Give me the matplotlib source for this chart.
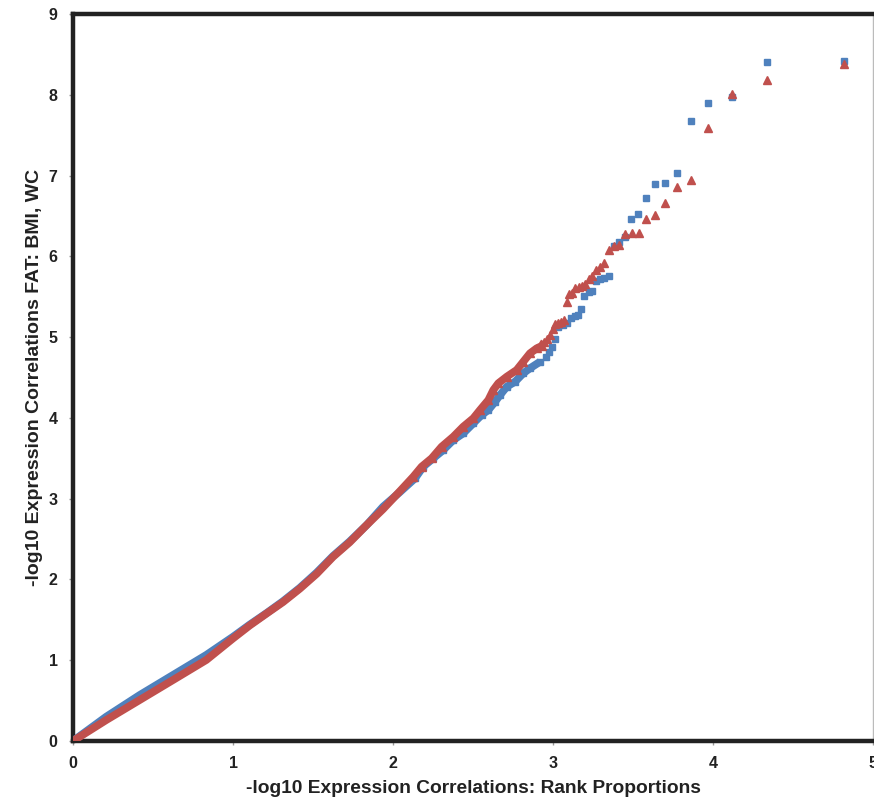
import matplotlib
matplotlib.use("Agg")
import matplotlib.pyplot as plt
import numpy as np

plt.rcParams['font.family'] = ['Liberation Sans', 'DejaVu Sans']

# Blue series (squares)
blue_x = [0.0, 0.208, 0.417, 0.625, 0.833, 1.0, 1.104, 1.211, 1.3125, 1.417, 1.523, 1.625,
          1.729, 1.836, 1.9375, 2.042, 2.138, 2.189, 2.252, 2.314, 2.377, 2.439, 2.502, 2.554,
          2.596, 2.638, 2.669, 2.711, 2.763, 2.814, 2.856, 2.919, 2.956, 2.977, 2.996, 3.013,
          3.033, 3.063, 3.086, 3.113, 3.136, 3.156, 3.177, 3.196, 3.225, 3.242, 3.267, 3.294,
          3.319, 3.348, 3.381, 3.414, 3.450, 3.489, 3.533, 3.581, 3.638, 3.700, 3.773, 3.861,
          3.969, 4.117, 4.335, 4.82]
blue_y = [0.0, 0.301, 0.569, 0.817, 1.065, 1.29, 1.44, 1.585, 1.73, 1.895, 2.085, 2.29,
          2.47, 2.675, 2.90, 3.08, 3.252, 3.396, 3.500, 3.602, 3.726, 3.809, 3.933, 4.036,
          4.098, 4.200, 4.283, 4.386, 4.448, 4.552, 4.614, 4.695, 4.757, 4.816, 4.874, 4.977,
          5.129, 5.150, 5.171, 5.240, 5.265, 5.274, 5.352, 5.509, 5.562, 5.571, 5.691, 5.719,
          5.735, 5.756, 6.128, 6.181, 6.243, 6.458, 6.524, 6.718, 6.897, 6.912, 7.028, 7.671,
          7.898, 7.976, 8.41, 8.42]

# Red series (triangles)
red_x = [0.0, 0.208, 0.417, 0.625, 0.833, 1.0, 1.104, 1.211, 1.3125, 1.417, 1.523, 1.625,
         1.729, 1.836, 1.9375, 2.042, 2.127, 2.179, 2.242, 2.304, 2.377, 2.439, 2.502, 2.544,
         2.596, 2.627, 2.658, 2.711, 2.773, 2.814, 2.856, 2.898, 2.929, 2.946, 2.964, 2.981,
         2.998, 3.014, 3.033, 3.052, 3.069, 3.086, 3.102, 3.119, 3.139, 3.161, 3.179, 3.198,
         3.223, 3.242, 3.269, 3.294, 3.321, 3.350, 3.381, 3.414, 3.452, 3.492, 3.536, 3.581,
         3.638, 3.700, 3.773, 3.861, 3.969, 4.117, 4.335, 4.82]
red_y = [0.0, 0.260, 0.508, 0.755, 1.003, 1.27, 1.43, 1.58, 1.72, 1.885, 2.07, 2.28,
         2.46, 2.675, 2.87, 3.09, 3.272, 3.396, 3.500, 3.643, 3.767, 3.891, 3.995, 4.098,
         4.221, 4.345, 4.428, 4.510, 4.593, 4.695, 4.799, 4.861, 4.890, 4.943, 4.976, 5.026,
         5.097, 5.158, 5.175, 5.183, 5.212, 5.438, 5.530, 5.550, 5.604, 5.624, 5.636, 5.657,
         5.723, 5.757, 5.831, 5.872, 5.921, 6.078, 6.131, 6.140, 6.276, 6.292, 6.292, 6.462,
         6.511, 6.664, 6.862, 6.945, 7.592, 8.010, 8.18, 8.38]

x_ticks = [0, 1, 2, 3, 4, 5]
y_ticks = [0, 1, 2, 3, 4, 5, 6, 7, 8, 9]
x_label = "-log10 Expression Correlations: Rank Proportions"
y_label = "-log10 Expression Correlations FAT: BMI, WC"

BLUE = "#4F81BD"
RED = "#C0504D"
DENSE_LIMIT = 2.95
MARKER_FROM = 2.1

fig = plt.figure(figsize=(8.74, 7.97), dpi=100)
ax = fig.add_axes([73 / 874, 1 - 741 / 797, 800 / 874, 727 / 797])

for xs, ys, col, mk, ms in [(blue_x, blue_y, BLUE, 's', 4.6), (red_x, red_y, RED, '^', 5.2)]:
    xs = np.array(xs); ys = np.array(ys)
    dense = xs <= DENSE_LIMIT
    ax.plot(xs[dense], ys[dense], color=col, lw=5.6, solid_capstyle='butt',
            solid_joinstyle='round', zorder=3)
    sparse = xs >= MARKER_FROM
    ax.plot(xs[sparse], ys[sparse], linestyle='none', marker=mk, ms=ms, color=col,
            mec=col, zorder=3)

ax.set_xlim(0, 5)
ax.set_ylim(0, 9)
ax.set_xticks(x_ticks)
ax.set_yticks(y_ticks)
ax.tick_params(direction='out', length=3, width=1, color='#999999',
               labelsize=11.5, pad=8)
for lab in ax.get_xticklabels() + ax.get_yticklabels():
    lab.set_fontweight('bold')
    lab.set_color('#222222')

for s in ['left', 'top', 'bottom']:
    ax.spines[s].set_linewidth(3.2)
    ax.spines[s].set_color('#222222')
ax.spines['right'].set_linewidth(1)
ax.spines['right'].set_color('#BBBBBB')

ax.set_xlabel(x_label, fontsize=13.8, fontweight='bold', color='#222222', labelpad=6)
ax.set_ylabel(y_label, fontsize=14, fontweight='bold', color='#222222', labelpad=4)

fig.savefig("out.png", dpi=100)
